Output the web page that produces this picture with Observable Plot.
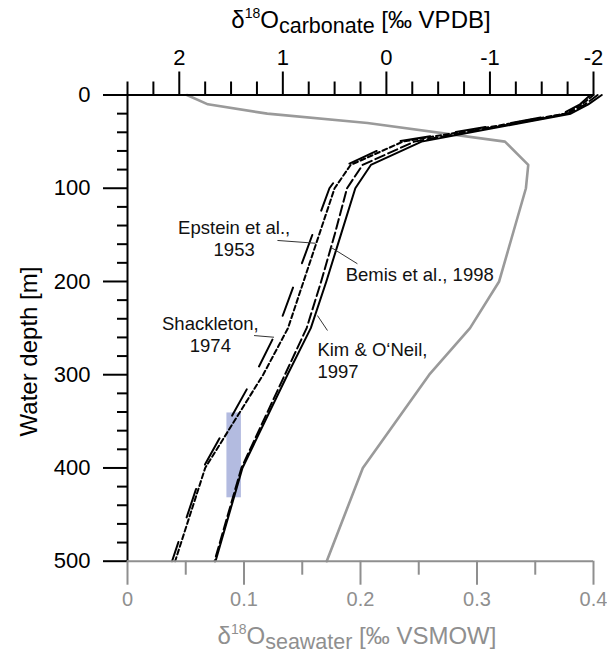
<!DOCTYPE html>
<html><head><meta charset="utf-8">
<script src="https://cdn.jsdelivr.net/npm/d3@7"></script>
<script src="https://cdn.jsdelivr.net/npm/@observablehq/plot@0.6"></script>
<style>body{margin:0;background:#fff;} #chart{width:607px;height:654px;}</style>
</head><body><div id="chart"></div>
<script>
// Depths (m) of the carbonate curves
const depths = [0, 10, 20, 30, 50, 75, 100, 150, 200, 250, 300, 400, 500];
// δ18O carbonate [‰ VPDB] by equation
const kimONeil   = [-2.08, -1.95, -1.78, -1.30, -0.34, 0.15, 0.30, 0.44, 0.58, 0.73, 0.955, 1.39, 1.65];
const bemis      = [-2.04, -1.92, -1.75, -1.27, -0.27, 0.23, 0.38, 0.50, 0.63, 0.77, 0.98, 1.40, 1.66];
const epstein    = [-2.00, -1.89, -1.72, -1.23, -0.16, 0.345, 0.50, 0.65, 0.80, 0.95, 1.19, 1.75, 2.04];
const shackleton = [-1.97, -1.87, -1.70, -1.20, -0.10, 0.385, 0.55, 0.715, 0.88, 1.045, 1.27, 1.77, 2.07];

// δ18O seawater [‰ VSMOW] profile
const swDepths = [0, 10, 20, 30, 50, 75, 100, 200, 250, 300, 400, 500];
const seawater = [0.051, 0.069, 0.12, 0.206, 0.324, 0.344, 0.342, 0.319, 0.294, 0.259, 0.202, 0.171];

// Measured range (box)
const boxCarbonate = [1.40, 1.54];
const boxDepth = [341, 432];

// Axis ticks
const depthMajor = [0, 100, 200, 300, 400, 500];
const depthMinor = d3.range(0, 501, 20).filter(d => d % 100 !== 0);
const carbMajor = [2, 1, 0, -1, -2];
const carbMajorLabels = ["2", "1", "0", "-1", "-2"];
const carbMinor = [2.5, 2.25, 1.75, 1.5, 1.25, 0.75, 0.5, 0.25, -0.25, -0.5, -0.75, -1.25, -1.5, -1.75];
const swMajor = [0, 0.1, 0.2, 0.3, 0.4];
const swMajorLabels = ["0", "0.1", "0.2", "0.3", "0.4"];
const swMinor = [0.05, 0.15, 0.25, 0.35];

// Curve labels (carbonate value, depth) and leader lines
const labelsCentered = [
  {text: "Epstein et al.,\n1953", c: 1.47, depth: 153.4},
  {text: "Shackleton,\n1974", c: 1.70, depth: 256.7}
];
const labelsLeft = [
  {text: "Bemis et al., 1998", c: 0.393, depth: 191.8},
  {text: "Kim & O\u2018Neil,\n1997", c: 0.666, depth: 283.9}
];
const leaders = [
  {c1: 1.052, d1: 156, c2: 0.682, d2: 159},
  {c1: 0.28, d1: 181, c2: 0.538, d2: 163.2},
  {c1: 1.278, d1: 258, c2: 1.085, d2: 259.8},
  {c1: 0.569, d1: 252.6, c2: 0.666, d2: 236.5}
];

// carbonate axis (top, 2.5 … -2) shares the x scale with seawater axis (0 … 0.4)
const carb = c => (2.5 - c) * 0.4 / 4.5;

const series = [
  {name: "Kim & O'Neil, 1997", values: kimONeil, dash: null},
  {name: "Bemis et al., 1998", values: bemis, dash: "10,4"},
  {name: "Epstein et al., 1953", values: epstein, dash: "5,3"},
  {name: "Shackleton, 1974", values: shackleton, dash: "30,26"}
];
const swTable = swDepths.map((d, i) => ({depth: d, sw: seawater[i]}));

const GRAY = "#8f8f8f";
const FONT = "'Liberation Sans', Arial, sans-serif";

const marks = [
  Plot.rect([{}], {x1: () => carb(boxCarbonate[1]), x2: () => carb(boxCarbonate[0]), y1: () => boxDepth[0], y2: () => boxDepth[1], fill: "#b3bbe0"}),
  Plot.line(swTable, {x: "sw", y: "depth", stroke: "#9a9a9a", strokeWidth: 2.6}),
  ...series.map(s => Plot.line(depths.map((d, i) => ({depth: d, c: s.values[i]})), {
    x: d => carb(d.c), y: "depth", stroke: "black", strokeWidth: 2, strokeDasharray: s.dash ?? undefined
  })),
  Plot.link(leaders, {x1: d => carb(d.c1), y1: "d1", x2: d => carb(d.c2), y2: "d2", stroke: "#333", strokeWidth: 1}),
  Plot.text(labelsCentered, {x: d => carb(d.c), y: "depth", text: "text", textAnchor: "middle", lineAnchor: "middle", fontSize: 18.5, lineHeight: 1.19, fill: "#111"}),
  Plot.text(labelsLeft, {x: d => carb(d.c), y: "depth", text: "text", textAnchor: "start", lineAnchor: "middle", fontSize: 18.5, lineHeight: 1.19, fill: "#111"}),
  // axis lines
  Plot.ruleX([0], {stroke: "black", strokeWidth: 2}),
  Plot.ruleY([0], {stroke: "black", strokeWidth: 2}),
  Plot.ruleY([500], {stroke: GRAY, strokeWidth: 2}),
  // y axis (depth)
  Plot.axisY(depthMajor, {anchor: "left", tickSize: 24, tickPadding: 13, strokeWidth: 2, color: "black", fontSize: 22, label: null}),
  Plot.axisY(depthMinor, {anchor: "left", tickSize: 10, strokeWidth: 2, color: "black", tickFormat: () => "", label: null}),
  // top axis (carbonate)
  Plot.axisX(carbMajor.map(carb), {anchor: "top", tickSize: 24, tickPadding: 6, strokeWidth: 2, color: "black", fontSize: 22, tickFormat: (d, i) => carbMajorLabels[i], label: null}),
  Plot.axisX(carbMinor.map(carb), {anchor: "top", tickSize: 14, strokeWidth: 2, color: "black", tickFormat: () => "", label: null}),
  // bottom axis (seawater)
  Plot.axisX(swMajor, {anchor: "bottom", tickSize: 24, tickPadding: 7, strokeWidth: 2, color: GRAY, fontSize: 20, tickFormat: (d, i) => swMajorLabels[i], label: null}),
  Plot.axisX(swMinor, {anchor: "bottom", tickSize: 14, strokeWidth: 2, color: GRAY, tickFormat: () => "", label: null})
];

const svg = Plot.plot({
  width: 607,
  height: 654,
  marginLeft: 127,
  marginRight: 14,
  marginTop: 94.5,
  marginBottom: 93.3,
  style: {fontFamily: FONT, background: "white", color: "black"},
  x: {domain: [0, 0.4]},
  y: {domain: [0, 500], reverse: true},
  marks
});

const sel = d3.select(svg);
function addParts(g, parts) {
  parts.forEach(p => {
    const t = g.append("tspan").text(p.t);
    if (p.dy) t.attr("dy", p.dy);
    if (p.fs) t.attr("font-size", p.fs);
  });
}
const topTitle = sel.append("text").attr("x", 361).attr("y", 28).attr("text-anchor", "middle")
  .attr("font-size", 24).attr("font-family", FONT).attr("fill", "black");
addParts(topTitle, [{t: "\u03B4"}, {t: "18", dy: -10, fs: 14}, {t: "O", dy: 10}, {t: "carbonate", dy: 5, fs: 21.5}, {t: " [\u2030 VPDB]", dy: -5}]);

const botTitle = sel.append("text").attr("x", 357).attr("y", 644).attr("text-anchor", "middle")
  .attr("font-size", 24).attr("font-family", FONT).attr("fill", GRAY);
addParts(botTitle, [{t: "\u03B4"}, {t: "18", dy: -10, fs: 14}, {t: "O", dy: 10}, {t: "seawater", dy: 5, fs: 21.5}, {t: " [\u2030 VSMOW]", dy: -5}]);

sel.append("text").attr("transform", "translate(37,351.5) rotate(-90)").attr("text-anchor", "middle")
  .attr("font-size", 24).attr("font-family", FONT).attr("fill", "black").text("Water depth [m]");

document.getElementById("chart").appendChild(svg);
</script>
</body></html>
